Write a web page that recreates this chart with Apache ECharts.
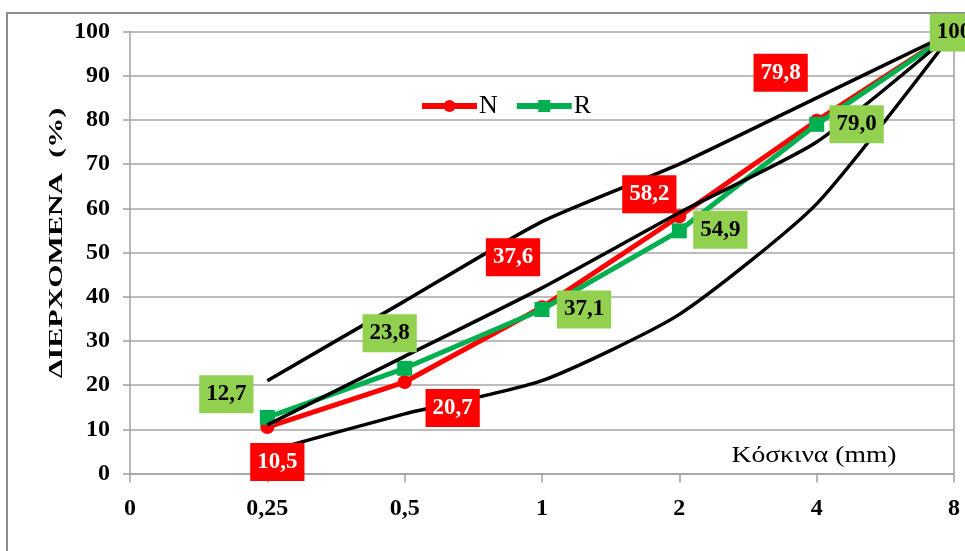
<!DOCTYPE html>
<html>
<head>
<meta charset="utf-8">
<script src="https://cdn.jsdelivr.net/npm/echarts@6/dist/echarts.min.js"></script>
<style>
html,body{margin:0;padding:0;background:#fff;}
#c{width:965px;height:551px;}
</style>
</head>
<body>
<div id="c"></div>
<script>
var categories = ['0', '0,25', '0,5', '1', '2', '4', '8'];
var seriesN = ['-', 10.5, 20.7, 37.6, 58.2, 79.8, 100];
var seriesR = ['-', 12.7, 23.8, 37.1, 54.9, 79.0, 100];
var limitUpper = ['-', 21, 39, 57, 70, 85, 100];
var limitMiddle = ['-', 11, 26.5, 42, 59, 75, 100];
var limitLower = ['-', 5, 13.5, 21, 36, 61, 100];
var yTicks = [0, 10, 20, 30, 40, 50, 60, 70, 80, 90, 100];

// label offsets (style, not data)
var offN = [null, [10, 35], [48, 26], [-29, -50], [-30, -22], [-36, -48], null];
var offR = [null, [-41, -23], [-15, -35], [42, 0], [41, -1], [40, 0], [0, 1]];

var SERIF = '"Liberation Serif", "DejaVu Serif", serif';

function fmt(v) {
  return v === 100 ? '100' : v.toFixed(1).replace('.', ',');
}

function buildLabelData(values, offs) {
  return values.map(function (v, i) {
    if (v === '-') return '-';
    var o = offs[i];
    return {
      value: v,
      label: o ? { show: true, offset: o } : { show: false }
    };
  });
}

var chart = echarts.init(document.getElementById('c'));

function blackLine(name, data) {
  return {
    name: name,
    type: 'line',
    data: data,
    smooth: 0.2,
    showSymbol: false,
    symbol: 'none',
    clip: false,
    z: 5,
    lineStyle: { color: '#000', width: 3.5 },
    silent: true
  };
}

function labelSeries(name, values, offs, txtColor, bg) {
  return {
    name: name,
    type: 'scatter',
    data: buildLabelData(values, offs),
    symbolSize: 1,
    itemStyle: { color: 'rgba(0,0,0,0)', opacity: 1 },
    z: 10,
    silent: true,
    label: {
      show: true,
      position: 'inside',
      formatter: function (p) { return fmt(p.value); },
      fontFamily: SERIF,
      fontSize: 23,
      fontWeight: 'bold',
      color: txtColor,
      opacity: 1,
      backgroundColor: bg,
      padding: [8, 7, 7, 7],
      lineHeight: 23
    }
  };
}

var option = {
  animation: false,
  backgroundColor: '#fff',
  grid: { left: 130, right: 11, top: 31.5, bottom: 77.5, containLabel: false },
  legend: {
    data: ['N', 'R'],
    left: 414,
    top: 88,
    itemWidth: 55,
    itemHeight: 15,
    itemGap: 16,
    lineStyle: { width: 6 },
    textStyle: { fontFamily: SERIF, fontSize: 26, color: '#000', padding: [0, 0, 0, -3] }
  },
  xAxis: {
    type: 'category',
    data: categories,
    boundaryGap: false,
    axisLine: { show: true, lineStyle: { color: '#a0a0a0', width: 1.5 } },
    axisTick: { show: true, inside: false, length: 9, alignWithLabel: true, lineStyle: { color: '#a0a0a0', width: 1.5 } },
    axisLabel: { fontFamily: SERIF, fontSize: 24, fontWeight: 'bold', color: '#000', margin: 23 },
    splitLine: {
      show: true,
      interval: function (index) { return index === categories.length - 1; },
      lineStyle: { color: '#a0a0a0', width: 1.5 }
    }
  },
  yAxis: {
    type: 'value',
    min: yTicks[0],
    max: yTicks[yTicks.length - 1],
    interval: 10,
    axisLine: { show: true, lineStyle: { color: '#a0a0a0', width: 1.5 } },
    axisTick: { show: true, length: 7, lineStyle: { color: '#a0a0a0', width: 1.5 } },
    axisLabel: { fontFamily: SERIF, fontSize: 24, fontWeight: 'bold', color: '#000', margin: 20 },
    splitLine: { show: true, lineStyle: { color: '#a6a6a6', width: 1.5 } }
  },
  graphic: [
    {
      type: 'rect',
      shape: { x: 7, y: 13, width: 1000, height: 600 },
      style: { fill: 'none', stroke: '#8c8c8c', lineWidth: 2 },
      silent: true,
      z: -10
    },
    {
      type: 'text',
      x: 57,
      y: 243,
      rotation: Math.PI / 2,
      scaleX: 1.58,
      style: {
        text: 'ΔΙΕΡΧΟΜΕΝΑ  (%)',
        font: 'bold 19px ' + SERIF,
        fill: '#000',
        align: 'center',
        verticalAlign: 'middle'
      },
      silent: true
    },
    {
      type: 'text',
      x: 814,
      y: 456,
      scaleX: 1.2,
      style: {
        text: 'Κόσκινα (mm)',
        font: '23px ' + SERIF,
        fill: '#000',
        align: 'center',
        verticalAlign: 'middle'
      },
      silent: true
    }
  ],
  series: [
    {
      name: 'N',
      type: 'line',
      data: seriesN,
      symbol: 'circle',
      symbolSize: 14,
      clip: false,
      z: 3,
      itemStyle: { color: '#ff0000' },
      lineStyle: { color: '#ff0000', width: 5 }
    },
    {
      name: 'R',
      type: 'line',
      data: seriesR,
      symbol: 'rect',
      symbolSize: 15,
      clip: false,
      z: 4,
      itemStyle: { color: '#00b050' },
      lineStyle: { color: '#00b050', width: 5 }
    },
    blackLine('upper', limitUpper),
    blackLine('middle', limitMiddle),
    blackLine('lower', limitLower),
    labelSeries('N labels', seriesN, offN, '#fff', '#ff0000'),
    labelSeries('R labels', seriesR, offR, '#000', '#92d050')
  ]
};

chart.setOption(option);
</script>
</body>
</html>
